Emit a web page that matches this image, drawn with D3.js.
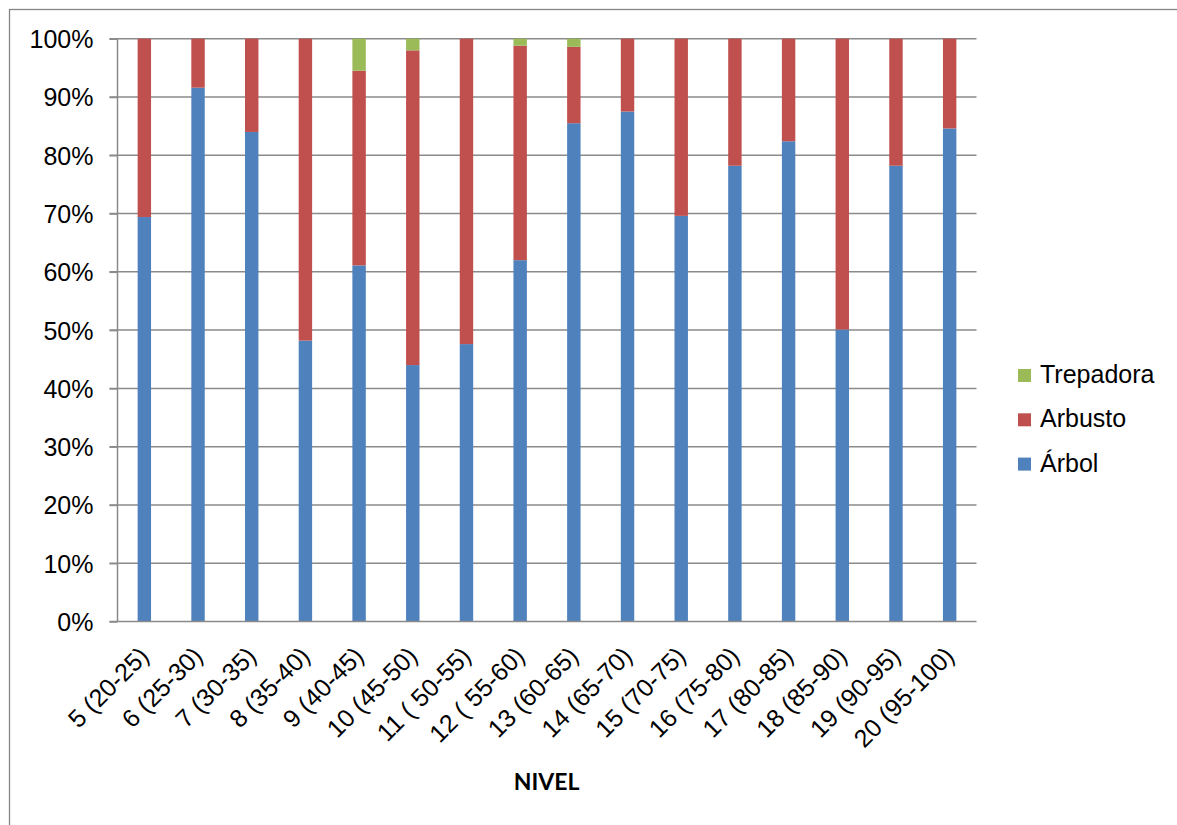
<!DOCTYPE html>
<html>
<head>
<meta charset="utf-8">
<script src="https://cdn.jsdelivr.net/npm/d3@7"></script>
<style>
  html, body { margin: 0; padding: 0; background: #fff; }
  svg { display: block; }
</style>
</head>
<body>
<svg id="chart" width="1177" height="825"></svg>
<script>
// ---- Data ----
const categories = ["5 (20-25)", "6 (25-30)", "7 (30-35)", "8 (35-40)", "9 (40-45)", "10 (45-50)",
  "11 ( 50-55)", "12 ( 55-60)", "13 (60-65)", "14 (65-70)", "15 (70-75)", "16 (75-80)",
  "17 (80-85)", "18 (85-90)", "19 (90-95)", "20 (95-100)"];
const arbol     = [69.4, 91.6, 84.0, 48.2, 61.1, 44.0, 47.6, 62.0, 85.5, 87.5, 69.6, 78.2, 82.4, 50.1, 78.2, 84.6];
const arbusto   = [30.6,  8.4, 16.0, 51.8, 33.4, 54.0, 52.4, 36.8, 13.1, 12.5, 30.4, 21.8, 17.6, 49.9, 21.8, 15.4];
const trepadora = [ 0.0,  0.0,  0.0,  0.0,  5.5,  2.0,  0.0,  1.2,  1.4,  0.0,  0.0,  0.0,  0.0,  0.0,  0.0,  0.0];
const seriesNames = ["Árbol", "Arbusto", "Trepadora"];
const yTicks = [0, 10, 20, 30, 40, 50, 60, 70, 80, 90, 100];
const xTitle = "NIVEL";

// ---- Setup ----
const colors = { "Árbol": "#4F81BD", "Arbusto": "#C0504D", "Trepadora": "#9BBB59" };
const svg = d3.select("#chart");
const pLeft = 117.5, pRight = 976.5, pTop = 38.7, pBottom = 621.5;

const table = categories.map((c, i) => ({ cat: c, "Árbol": arbol[i], "Arbusto": arbusto[i], "Trepadora": trepadora[i] }));
const stack = d3.stack().keys(seriesNames)(table);

const x = d3.scaleBand().domain(categories).range([pLeft, pRight]).paddingInner(0.75).paddingOuter(0.375);
const y = d3.scaleLinear().domain([0, 100]).range([pBottom, pTop]);

// Outer chart border (right/bottom cropped)
svg.append("rect").attr("x", 9.5).attr("y", 9.5).attr("width", 1300).attr("height", 1000)
  .attr("fill", "none").attr("stroke", "#868686").attr("stroke-width", 1.3);

// Gridlines
svg.append("g").selectAll("line").data(yTicks.filter(t => t > 0)).join("line")
  .attr("x1", pLeft - 8).attr("x2", pRight)
  .attr("y1", d => y(d)).attr("y2", d => y(d))
  .attr("stroke", "#8a8a8a").attr("stroke-width", 1.5);

// Bars
svg.append("g").selectAll("g").data(stack).join("g")
  .attr("fill", d => colors[d.key])
  .selectAll("rect").data(d => d).join("rect")
  .attr("x", d => x(d.data.cat))
  .attr("width", x.bandwidth())
  .attr("y", d => y(d[1]))
  .attr("height", d => Math.max(0, y(d[0]) - y(d[1])));

// Y axis
const yAxis = d3.axisLeft(y).tickValues(yTicks).tickSize(8).tickFormat(d => d + "%").tickPadding(16);
const yg = svg.append("g").attr("transform", `translate(${pLeft},0)`).call(yAxis);
yg.select(".domain").attr("stroke", "#8a8a8a").attr("stroke-width", 1.5).attr("d", `M0,${pTop}V${pBottom}`);
yg.selectAll(".tick line").attr("stroke", "#8a8a8a").attr("stroke-width", 1.5);
yg.selectAll(".tick text").attr("font-family", "'Liberation Sans', Arial, sans-serif")
  .attr("font-size", 25).attr("fill", "#000").attr("dy", "0.36em");

// X axis
const xAxis = d3.axisBottom(x).tickSize(0).tickPadding(0);
const xg = svg.append("g").attr("transform", `translate(0,${pBottom})`).call(xAxis);
xg.select(".domain").attr("stroke", "#8a8a8a").attr("stroke-width", 1.5).attr("d", `M${pLeft - 8},0H${pRight}`);
xg.selectAll(".tick text")
  .attr("font-family", "'Liberation Sans', Arial, sans-serif").attr("font-size", 25).attr("fill", "#000")
  .attr("text-anchor", "end").attr("y", 0).attr("dy", 0)
  .attr("transform", "translate(6,36) rotate(-45)");

// X title
svg.append("text").attr("x", 546.5).attr("y", 790)
  .attr("text-anchor", "middle").attr("font-family", "Lato, 'Open Sans', sans-serif")
  .attr("font-weight", 700).attr("font-size", 23).attr("fill", "#000").text(xTitle);

// Legend
const legendItems = ["Trepadora", "Arbusto", "Árbol"];
const lg = svg.append("g").selectAll("g").data(legendItems).join("g")
  .attr("transform", (d, i) => `translate(1018, ${383 + i * 44.3})`);
lg.append("rect").attr("x", 0).attr("y", -14).attr("width", 13).attr("height", 13)
  .attr("fill", d => colors[d]);
lg.append("text").attr("x", 22).attr("y", 0)
  .attr("font-family", "'Liberation Sans', Arial, sans-serif").attr("font-size", 25).attr("fill", "#000")
  .text(d => d);
</script>
</body>
</html>
